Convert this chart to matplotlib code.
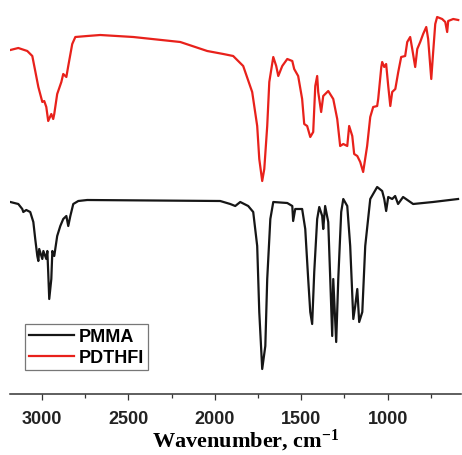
import numpy as np
import matplotlib
matplotlib.use("Agg")
from matplotlib import pyplot as plt

# FTIR spectra (wavenumber in cm-1, transmittance in arbitrary units)
pmma_wn = [3183, 3137, 3114, 3108, 3091, 3068, 3050, 3039, 3027, 3021,
           3016, 2998, 2992, 2975, 2969, 2964, 2958, 2946, 2940, 2929,
           2912, 2894, 2877, 2859, 2848, 2836, 2819, 2790, 2738, 1969,
           1911, 1882, 1853, 1807, 1778, 1755, 1743, 1726, 1708, 1697,
           1679, 1662, 1581, 1552, 1547, 1535, 1495, 1477, 1460, 1448,
           1437, 1425, 1408, 1396, 1379, 1373, 1362, 1344, 1333, 1321,
           1315, 1298, 1286, 1269, 1257, 1234, 1217, 1199, 1188, 1176,
           1165, 1147, 1130, 1101, 1061, 1032, 1020, 1009, 997, 974,
           957, 940, 911, 853, 738, 593]
pmma_t = [192, 190, 185, 182, 184, 182, 172, 155, 138, 133,
          145, 135, 143, 135, 143, 122, 95, 115, 143, 138,
          158, 168, 175, 178, 168, 178, 190, 193, 194, 193,
          190, 188, 192, 188, 182, 148, 82, 25, 48, 115,
          175, 192, 191, 188, 173, 185, 185, 165, 115, 82,
          70, 122, 175, 187, 178, 165, 188, 172, 118, 58,
          115, 52, 115, 182, 195, 188, 148, 75, 88, 105,
          72, 82, 148, 195, 207, 203, 195, 183, 197, 195,
          198, 190, 197, 190, 192, 195]

pdthfi_wn = [3183, 3137, 3085, 3056, 3039, 3021, 2998, 2987, 2975, 2964,
             2946, 2935, 2929, 2912, 2888, 2877, 2859, 2848, 2825, 2807,
             2738, 2663, 2472, 2200, 2044, 1951, 1894, 1836, 1784, 1755,
             1743, 1726, 1714, 1697, 1685, 1662, 1645, 1633, 1610, 1581,
             1552, 1541, 1518, 1495, 1483, 1466, 1448, 1431, 1419, 1408,
             1402, 1385, 1373, 1344, 1315, 1292, 1275, 1257, 1234, 1223,
             1205, 1194, 1176, 1159, 1142, 1119, 1101, 1084, 1061, 1055,
             1037, 1032, 1020, 1009, 997, 985, 974, 956, 939, 922,
             899, 887, 870, 858, 841, 829, 812, 795, 777, 766,
             748, 737, 725, 714, 685, 667, 656, 650, 621, 592]
pdthfi_t = [344, 346, 343, 338, 323, 307, 292, 293, 287, 273,
            280, 275, 280, 300, 312, 320, 317, 328, 350, 357,
            358, 359, 357, 352, 343, 340, 338, 328, 302, 268,
            235, 213, 225, 268, 312, 337, 328, 318, 328, 335,
            333, 325, 318, 295, 270, 268, 257, 262, 308, 318,
            302, 282, 298, 303, 295, 275, 248, 250, 248, 268,
            258, 240, 238, 232, 222, 248, 277, 287, 288, 295,
            327, 332, 327, 330, 308, 288, 302, 305, 322, 337,
            338, 352, 357, 345, 327, 345, 352, 360, 367, 355,
            315, 342, 370, 377, 375, 372, 362, 373, 375, 374]

labels = ["PMMA", "PDTHFI"]

plt.rcParams['mathtext.fontset'] = 'custom'
plt.rcParams['mathtext.bf'] = 'Liberation Serif:bold'
plt.rcParams['mathtext.rm'] = 'Liberation Serif:bold'
plt.rcParams['mathtext.default'] = 'bf'

fig = plt.figure(figsize=(4.62, 4.56), dpi=100)
ax = fig.add_axes([10 / 462, 1 - 395 / 456, 451 / 462, 395 / 456])

ax.plot(pmma_wn, pmma_t, color="#161616", lw=1.6, label=labels[0])
ax.plot(pdthfi_wn, pdthfi_t, color="#e8211b", lw=1.6, label=labels[1])

ax.set_xlim(3185, 576)
ax.set_ylim(0, 395)

for s in ["top", "right", "left"]:
    ax.spines[s].set_visible(False)
ax.spines["bottom"].set_linewidth(1.1)
ax.spines["bottom"].set_color("#333333")
ax.set_yticks([])
ax.set_xticks([3000, 2500, 2000, 1500, 1000])
ax.set_xticks(np.arange(750, 3001, 250), minor=True)
ax.tick_params(axis="x", which="major", length=4.5, width=0.9, pad=7,
               colors="#333333", labelcolor="#222222")
ax.tick_params(axis="x", which="minor", length=3, width=0.9, colors="#333333")
for lab in ax.get_xticklabels():
    lab.set_fontfamily("Liberation Sans")
    lab.set_fontweight("bold")
    lab.set_fontsize(13)

ax.set_xlabel(r"Wavenumber, cm$^{-1}$", family="Liberation Serif",
              fontweight="bold", fontsize=16)
ax.xaxis.set_label_coords(0.523, -0.084)

leg = ax.legend(loc="lower left", bbox_to_anchor=(25 / 462, 1 - 371 / 456),
                bbox_transform=fig.transFigure, frameon=True, fancybox=False,
                handlelength=2.5, handletextpad=0.3, labelspacing=0.25,
                borderpad=0.2, borderaxespad=0,
                prop={"family": "Liberation Sans", "weight": "bold", "size": 13})
leg.get_frame().set_edgecolor("#555555")
leg.get_frame().set_linewidth(0.9)

fig.savefig("out.png", dpi=100)
